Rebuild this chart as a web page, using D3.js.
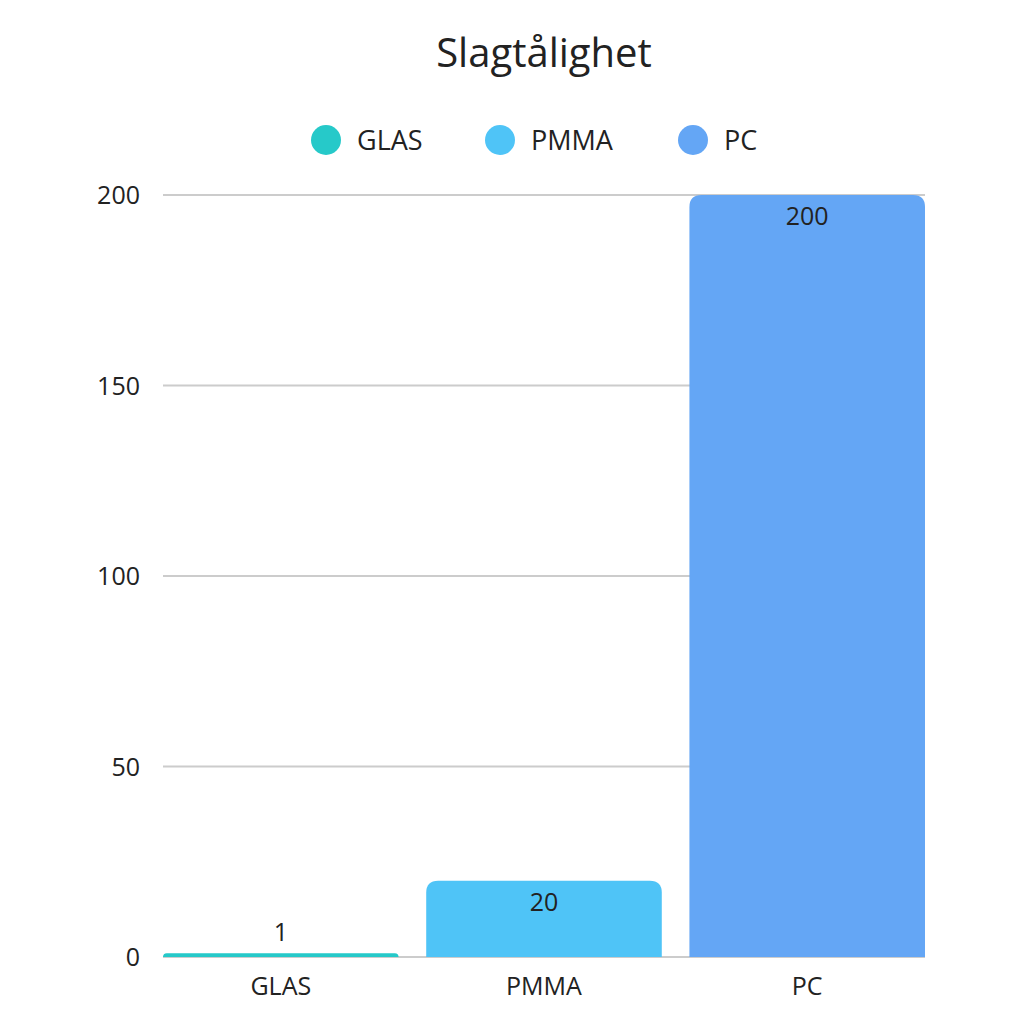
<!DOCTYPE html><html><head><meta charset="utf-8"><script src="https://cdn.jsdelivr.net/npm/d3@7"></script>
<style>body{margin:0;background:#fff}text{font-family:"Open Sans",sans-serif;fill:#222}</style></head><body>
<svg id="c" width="1024" height="1024"></svg>
<script>
const title="Slagtålighet";
const categories=["GLAS","PMMA","PC"];
const values=[1,20,200];
const colors=["#26C9C9","#4FC4F7","#64A6F5"];
const yTicks=[0,50,100,150,200];
const svg=d3.select("#c");
const x=d3.scaleBand().domain(categories).range([163,925]).paddingInner(0.105).paddingOuter(0);
const y=d3.scaleLinear().domain([0,200]).range([957,195]);
svg.append("text").attr("x",544).attr("y",67).attr("text-anchor","middle").style("font-size","40px").text(title);
const lx=[326,500,693];
categories.forEach((c,i)=>{
 svg.append("circle").attr("cx",lx[i]).attr("cy",140).attr("r",15).attr("fill",colors[i]);
 svg.append("text").attr("x",lx[i]+31).attr("y",150).style("font-size","27px").text(c);
});
svg.selectAll(".g").data(yTicks).enter().append("line").attr("x1",163).attr("x2",925).attr("y1",d=>y(d)).attr("y2",d=>y(d)).attr("stroke","#ccc").attr("stroke-width",2);
svg.selectAll(".yt").data(yTicks).enter().append("text").attr("x",140).attr("y",d=>y(d)+9).attr("text-anchor","end").style("font-size","25px").text(d=>d);
const r=12;
categories.forEach((c,i)=>{
 const x0=x(c),w=x.bandwidth(),y0=y(values[i]),y1=y(0);
 const h=y1-y0, rr=Math.min(r,h);
 svg.append("path").attr("fill",colors[i]).attr("d",
  `M${x0},${y1}V${y0+rr}Q${x0},${y0} ${x0+rr},${y0}H${x0+w-rr}Q${x0+w},${y0} ${x0+w},${y0+rr}V${y1}Z`);
 const ly = h<30 ? y0-12 : y0+30;
 svg.append("text").attr("x",x0+w/2).attr("y",ly).attr("text-anchor","middle").style("font-size","25px").text(values[i]);
 svg.append("text").attr("x",x0+w/2).attr("y",995).attr("text-anchor","middle").style("font-size","25px").text(c);
});
</script></body></html>
